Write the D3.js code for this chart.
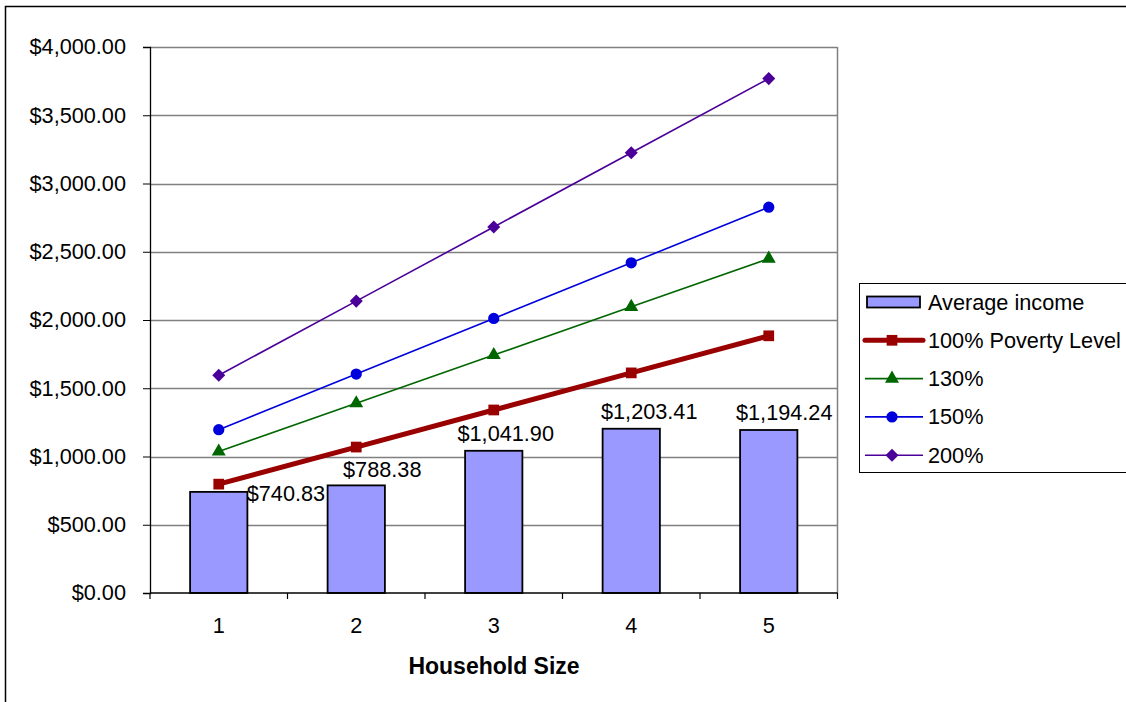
<!DOCTYPE html>
<html>
<head>
<meta charset="utf-8">
<script src="https://cdn.jsdelivr.net/npm/d3@7"></script>
<style>
  html, body { margin: 0; padding: 0; background: #fff; }
  svg { display: block; font-family: "Liberation Sans", Arial, sans-serif; }
</style>
</head>
<body>
<svg id="chart" width="1126" height="702"></svg>
<script>
// Monthly income by household size versus poverty thresholds
const householdSizes = [1, 2, 3, 4, 5];
const averageIncome = [740.83, 788.38, 1041.90, 1203.41, 1194.24];
const poverty100 = [797.5, 1069.17, 1340.83, 1612.5, 1884.17];
const poverty130 = [1036.75, 1389.92, 1743.08, 2096.25, 2449.42];
const poverty150 = [1196.25, 1603.75, 2011.25, 2418.75, 2826.25];
const poverty200 = [1595, 2138.33, 2681.67, 3225, 3768.33];
const yTicks = [0, 500, 1000, 1500, 2000, 2500, 3000, 3500, 4000];
const legendLabels = ["Average income", "100% Poverty Level", "130%", "150%", "200%"];
const xTitle = "Household Size";

const svg = d3.select("#chart");
const plot = { left: 150, right: 837.5, top: 47, bottom: 593 };
const fontSize = 21.7;

const x = d3.scaleBand().domain(householdSizes).range([plot.left, plot.right]);
const y = d3.scaleLinear().domain([0, 4000]).range([plot.bottom, plot.top]);
const money = d3.format("$,.2f");

// outer chart frame
svg.append("rect")
  .attr("x", 5.5).attr("y", 6.5).attr("width", 1130).attr("height", 710)
  .attr("fill", "#fff").attr("stroke", "#000").attr("stroke-width", 1.5);

// horizontal gridlines
svg.append("g").selectAll("line").data(yTicks.filter(d => d > 0)).join("line")
  .attr("x1", plot.left).attr("x2", plot.right)
  .attr("y1", d => Math.round(y(d)) + 0.5).attr("y2", d => Math.round(y(d)) + 0.5)
  .attr("stroke", "#808080").attr("stroke-width", 1.3);

// right edge of plot area
svg.append("line")
  .attr("x1", plot.right).attr("x2", plot.right)
  .attr("y1", plot.top).attr("y2", plot.bottom)
  .attr("stroke", "#808080").attr("stroke-width", 1.5);

// y axis
const yAxis = d3.axisLeft(y).tickValues(yTicks).tickFormat(money).tickSize(7).tickPadding(17);
const gy = svg.append("g").attr("transform", `translate(${plot.left},0)`).call(yAxis);
gy.select(".domain").attr("stroke", "#000").attr("stroke-width", 1.3);
gy.selectAll(".tick line").attr("stroke", "#000");
gy.selectAll("text").attr("font-size", fontSize).attr("fill", "#000")
  .attr("font-family", "Liberation Sans, Arial, sans-serif");

// bars
const barW = x.bandwidth() / 2.4;
svg.append("g").selectAll("rect").data(householdSizes).join("rect")
  .attr("x", (d) => x(d) + (x.bandwidth() - barW) / 2)
  .attr("y", (d, i) => y(averageIncome[i]))
  .attr("width", barW)
  .attr("height", (d, i) => y(0) - y(averageIncome[i]))
  .attr("fill", "#9999FF").attr("stroke", "#000").attr("stroke-width", 1.8);

// x axis (category boundaries as ticks)
const xLin = d3.scaleLinear().domain([0, householdSizes.length]).range([plot.left, plot.right]);
svg.append("line")
  .attr("x1", plot.left).attr("x2", plot.right)
  .attr("y1", plot.bottom).attr("y2", plot.bottom)
  .attr("stroke", "#000").attr("stroke-width", 1.3);
svg.append("g").selectAll("line").data(d3.range(householdSizes.length + 1)).join("line")
  .attr("x1", d => xLin(d)).attr("x2", d => xLin(d))
  .attr("y1", plot.bottom).attr("y2", plot.bottom + 6)
  .attr("stroke", "#000").attr("stroke-width", 1.2);
svg.append("g").selectAll("text").data(householdSizes).join("text")
  .attr("x", d => x(d) + x.bandwidth() / 2)
  .attr("y", 633)
  .attr("text-anchor", "middle")
  .attr("font-size", fontSize)
  .text(d => d);

svg.append("text")
  .attr("x", 494).attr("y", 674)
  .attr("text-anchor", "middle")
  .attr("font-size", 23).attr("font-weight", "bold")
  .text(xTitle);

// poverty lines
const cx = d => x(d) + x.bandwidth() / 2;
const series = [
  { values: poverty100, color: "#990000", width: 5, marker: "square" },
  { values: poverty130, color: "#006600", width: 1.6, marker: "triangle" },
  { values: poverty150, color: "#0000DD", width: 1.6, marker: "circle" },
  { values: poverty200, color: "#4B0099", width: 1.6, marker: "diamond" }
];
// square rotated 45 degrees for the diamond marker
const diamond = { draw(ctx, size) { const r = Math.sqrt(size / 2); ctx.moveTo(0, -r); ctx.lineTo(r, 0); ctx.lineTo(0, r); ctx.lineTo(-r, 0); ctx.closePath(); } };
const symbolFor = {
  square: d3.symbol(d3.symbolSquare, 115),
  triangle: d3.symbol(d3.symbolTriangle, 85),
  circle: d3.symbol(d3.symbolCircle, 100),
  diamond: d3.symbol(diamond, 85)
};

const line = d3.line().x((v, i) => cx(householdSizes[i])).y(v => y(v));
series.slice().reverse().forEach(s => {
  svg.append("path").datum(s.values)
    .attr("d", line).attr("fill", "none")
    .attr("stroke", s.color).attr("stroke-width", s.width);
  svg.append("g").selectAll("path").data(s.values).join("path")
    .attr("transform", (v, i) => `translate(${cx(householdSizes[i])},${y(v)})`)
    .attr("d", symbolFor[s.marker]())
    .attr("fill", s.color);
});

// bar value labels, each nudged off its bar centre; the first sits beside its bar
const labelShift = [{ dx: 28, dy: 9, anchor: "start" },
                    { dx: 26, dy: -8, anchor: "middle" },
                    { dx: 12, dy: -10, anchor: "middle" },
                    { dx: 18, dy: -10, anchor: "middle" },
                    { dx: 15.5, dy: -10, anchor: "middle" }];
svg.append("g").selectAll("text").data(averageIncome).join("text")
  .attr("x", (v, i) => cx(householdSizes[i]) + labelShift[i].dx)
  .attr("y", (v, i) => y(v) + labelShift[i].dy)
  .attr("text-anchor", (v, i) => labelShift[i].anchor)
  .attr("font-size", fontSize)
  .text(v => money(v));

// legend
const lg = svg.append("g");
lg.append("rect")
  .attr("x", 859.5).attr("y", 283.5).attr("width", 280).attr("height", 189)
  .attr("fill", "#fff").attr("stroke", "#000").attr("stroke-width", 1);
const rowY = i => 302 + i * 38.3;
legendLabels.forEach((label, i) => {
  const yy = rowY(i);
  if (i === 0) {
    lg.append("rect").attr("x", 867).attr("y", yy - 5.5).attr("width", 53).attr("height", 11)
      .attr("fill", "#9999FF").attr("stroke", "#000").attr("stroke-width", 1.8);
  } else {
    const s = series[i - 1];
    lg.append("line").attr("x1", 865).attr("x2", 923).attr("y1", yy).attr("y2", yy)
      .attr("stroke", s.color).attr("stroke-width", s.width)
      .attr("stroke-linecap", i === 1 ? "round" : "butt");
    lg.append("path").attr("transform", `translate(892,${yy})`)
      .attr("d", symbolFor[s.marker]()).attr("fill", s.color);
  }
  lg.append("text").attr("x", 928).attr("y", yy + 7.5)
    .attr("font-size", fontSize).text(label);
});
</script>
</body>
</html>
